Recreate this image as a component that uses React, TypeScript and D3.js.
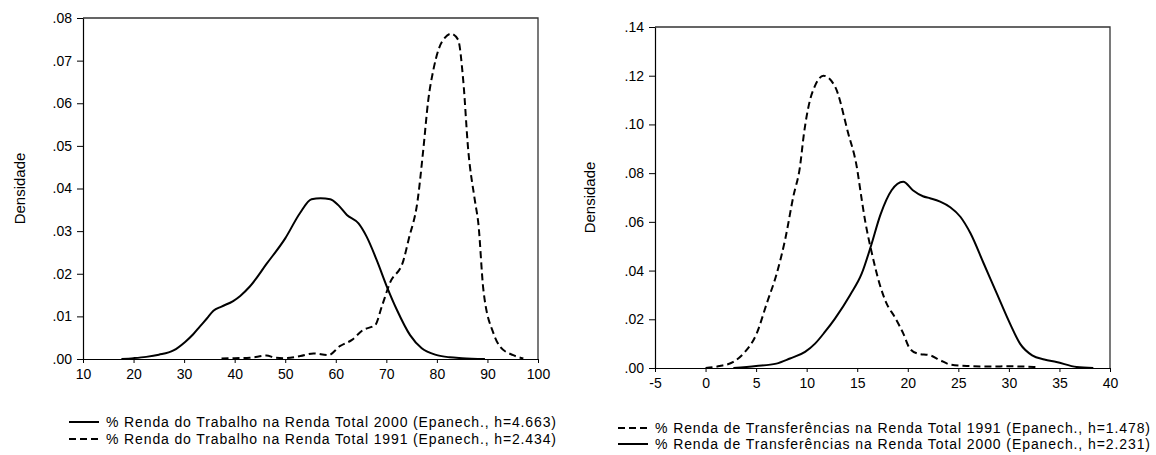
import React, { useEffect, useRef } from 'react';
import * as d3 from 'd3';

// left panel: % renda do trabalho
const trabX2000 = [17.6, 20, 22.5, 25, 27.9, 30.2, 31.8, 33.1, 34.5, 35.8, 37.4, 39.7, 41.1, 43, 46.3, 50, 52.9, 55.2, 57, 58.9, 60.5, 62.2, 64.5, 66.1, 68.1, 70.1, 72.1, 74.7, 77, 80, 82.5, 85, 89.5];
const trabY2000 = [0, 0.0002, 0.0005, 0.001, 0.002, 0.004, 0.0058, 0.0076, 0.0095, 0.0113, 0.0123, 0.0136, 0.0148, 0.017, 0.0223, 0.0283, 0.0342, 0.0375, 0.0377, 0.0375, 0.0361, 0.0338, 0.0318, 0.0287, 0.0232, 0.017, 0.0115, 0.0056, 0.0025, 0.0009, 0.0004, 0.0002, 0];
const trabX1991 = [37.4, 40, 43, 46.3, 48, 50, 53, 55.6, 58.5, 60.8, 63.2, 65.4, 67.8, 69.1, 70.7, 73.4, 74.4, 76.2, 77.3, 78.3, 79.3, 80.3, 81.6, 82.8, 84.2, 85.2, 86.2, 87.5, 88.2, 89.2, 91.2, 92.5, 95.1, 97.1];
const trabY1991 = [0.0001, 0.0002, 0.0003, 0.0008, 0.0003, 0.0002, 0.0007, 0.0013, 0.0009, 0.003, 0.0045, 0.0068, 0.008, 0.0123, 0.0178, 0.0232, 0.028, 0.0373, 0.049, 0.0608, 0.0678, 0.0725, 0.0754, 0.0763, 0.0749, 0.0655, 0.049, 0.0373, 0.0318, 0.0162, 0.006, 0.0029, 0.0009, 0.0001];

// right panel: % renda de transferencias
const transfX1991 = [0, 1.4, 2.75, 3.9, 5.06, 6.05, 7.04, 7.86, 8.68, 9.34, 9.74, 10.33, 10.8, 11.65, 12.8, 14.1, 14.95, 15.45, 15.8, 16.4, 17.25, 17.9, 18.7, 19.55, 20.2, 21.0, 22.2, 23.2, 24.2, 26, 28, 30, 32.75];
const transfY1991 = [0, 0.0008, 0.0025, 0.0066, 0.0142, 0.0265, 0.0388, 0.0525, 0.0704, 0.0827, 0.0965, 0.11, 0.1156, 0.12, 0.1156, 0.0965, 0.0827, 0.069, 0.06, 0.048, 0.034, 0.0265, 0.021, 0.0142, 0.008, 0.0059, 0.0052, 0.0032, 0.0014, 0.0008, 0.0006, 0.0007, 0.0004];
const transfX2000 = [2.75, 5, 7, 8.35, 9.84, 10.83, 11.8, 12.8, 14.3, 15.45, 16.35, 17.3, 18.4, 19.55, 20.5, 21.5, 22.2, 23.2, 24.2, 25.2, 26.2, 27.5, 28.8, 30.1, 31.1, 32.3, 33.5, 34.7, 36.7, 38.35];
const transfY2000 = [0, 0.0008, 0.0018, 0.0039, 0.0066, 0.01, 0.0148, 0.0203, 0.03, 0.0388, 0.05, 0.063, 0.073, 0.0765, 0.073, 0.0705, 0.0697, 0.0683, 0.066, 0.0621, 0.0553, 0.043, 0.0306, 0.0183, 0.01, 0.0052, 0.0035, 0.0025, 0.0004, 0];

const trabXTicks = [10, 20, 30, 40, 50, 60, 70, 80, 90, 100];
const trabYTicks = [0, 0.01, 0.02, 0.03, 0.04, 0.05, 0.06, 0.07, 0.08];
const transfXTicks = [-5, 0, 5, 10, 15, 20, 25, 30, 35, 40];
const transfYTicks = [0, 0.02, 0.04, 0.06, 0.08, 0.1, 0.12, 0.14];

const trabLegend = [
  '% Renda do Trabalho na Renda Total 2000 (Epanech., h=4.663)',
  '% Renda do Trabalho na Renda Total 1991 (Epanech., h=2.434)',
];
const transfLegend = [
  '% Renda de Transferências na Renda Total 1991 (Epanech., h=1.478)',
  '% Renda de Transferências na Renda Total 2000 (Epanech., h=2.231)',
];

const FONT = '"Liberation Sans", Arial, sans-serif';
const DASH = '7,4';

type Series = { xs: number[]; ys: number[]; dashed: boolean };

// .00 .02 ... style labels, no leading zero
const yFmt = (v: number) => '.' + String(Math.round(v * 100)).padStart(2, '0');

function drawPanel(
  svg: d3.Selection<SVGSVGElement, unknown, null, undefined>,
  opts: {
    box: [number, number, number, number];
    xDomain: [number, number];
    yDomain: [number, number];
    xTicks: number[];
    yTicks: number[];
    series: Series[];
    legend: string[];
    legendDashed: boolean[];
    legendX: number;
    legendRows: number[];
    legendWidth: number;
    labelOffset: number;
  }
) {
  const [left, top, right, bottom] = opts.box;
  const x = d3.scaleLinear().domain(opts.xDomain).range([left, right]);
  const y = d3.scaleLinear().domain(opts.yDomain).range([bottom, top]);
  const g = svg.append('g');

  // frame top + right
  g.append('path')
    .attr('d', `M${left},${top}H${right}V${bottom}`)
    .attr('fill', 'none')
    .attr('stroke', '#333')
    .attr('stroke-width', 1.3);

  const xAxis = g.append('g')
    .attr('transform', `translate(0,${bottom})`)
    .call(d3.axisBottom(x).tickValues(opts.xTicks).tickSize(4).tickSizeOuter(0).tickFormat((d: any) => String(d)));
  const yAxis = g.append('g')
    .attr('transform', `translate(${left},0)`)
    .call(d3.axisLeft(y).tickValues(opts.yTicks).tickSize(6).tickSizeOuter(0).tickFormat((d: any) => yFmt(d)));
  [xAxis, yAxis].forEach((a) => {
    a.selectAll('path').attr('stroke', '#000').attr('stroke-width', 1.2);
    a.selectAll('line').attr('stroke', '#000');
    a.selectAll('text')
      .attr('fill', '#000')
      .style('font-family', FONT)
      .style('font-size', '14px');
  });
  xAxis.selectAll('text').attr('dy', '0.95em');
  yAxis.selectAll('text').attr('x', -11);

  g.append('text')
    .attr('transform', `translate(${left - opts.labelOffset},${(top + bottom) / 2}) rotate(-90)`)
    .attr('text-anchor', 'middle')
    .style('font-family', FONT)
    .style('font-size', '15px')
    .text('Densidade');

  const line = d3.line<[number, number]>()
    .x((d) => x(d[0]))
    .y((d) => y(d[1]))
    .curve(d3.curveMonotoneX);

  opts.series.forEach((s) => {
    g.append('path')
      .datum(s.xs.map((v, i) => [v, s.ys[i]] as [number, number]))
      .attr('d', line)
      .attr('fill', 'none')
      .attr('stroke', '#000')
      .attr('stroke-width', 2)
      .attr('stroke-dasharray', s.dashed ? DASH : null);
  });

  opts.legend.forEach((t, i) => {
    const ly = opts.legendRows[i];
    g.append('line')
      .attr('x1', opts.legendX)
      .attr('x2', opts.legendX + 30)
      .attr('y1', ly)
      .attr('y2', ly)
      .attr('stroke', '#000')
      .attr('stroke-width', 2)
      .attr('stroke-dasharray', opts.legendDashed[i] ? DASH : null);
    g.append('text')
      .attr('x', opts.legendX + 37)
      .attr('y', ly)
      .attr('dy', '0.35em')
      .attr('textLength', opts.legendWidth)
      .attr('lengthAdjust', 'spacing')
      .style('font-family', FONT)
      .style('font-size', '14px')
      .text(t);
  });
}

export default function App() {
  const ref = useRef<SVGSVGElement>(null);

  useEffect(() => {
    const svg = d3.select(ref.current!);
    svg.selectAll('*').remove();

    drawPanel(svg, {
      box: [83, 18, 538, 359],
      xDomain: [10, 100],
      yDomain: [0, 0.08],
      xTicks: trabXTicks,
      yTicks: trabYTicks,
      series: [
        { xs: trabX2000, ys: trabY2000, dashed: false },
        { xs: trabX1991, ys: trabY1991, dashed: true },
      ],
      legend: trabLegend,
      legendDashed: [false, true],
      legendX: 69,
      legendRows: [422, 439],
      legendWidth: 450,
      labelOffset: 58,
    });

    drawPanel(svg, {
      box: [655, 27, 1110, 368],
      xDomain: [-5, 40],
      yDomain: [0, 0.14],
      xTicks: transfXTicks,
      yTicks: transfYTicks,
      series: [
        { xs: transfX1991, ys: transfY1991, dashed: true },
        { xs: transfX2000, ys: transfY2000, dashed: false },
      ],
      legend: transfLegend,
      legendDashed: [true, false],
      legendX: 618,
      legendRows: [428, 444],
      legendWidth: 495,
      labelOffset: 60,
    });
  }, []);

  return (
    <div style={{ position: 'absolute', left: 0, top: 0 }}>
      <svg ref={ref} width={1156} height={455} style={{ display: 'block', background: '#fff' }} />
    </div>
  );
}
